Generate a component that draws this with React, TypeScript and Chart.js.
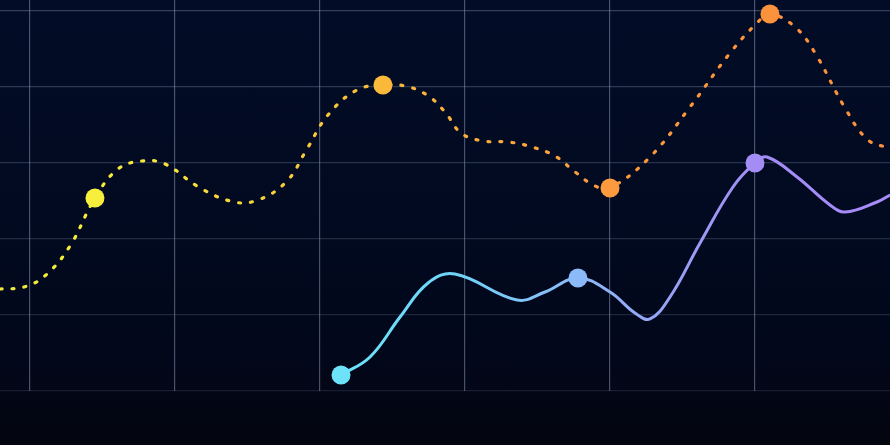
import React, { useEffect, useRef } from "react";
import { Chart, registerables } from "chart.js";

Chart.register(...registerables);

// x: one unit = 1/10 of a grid column, y: 0..100 scale (grid every 20)
const xGrid = [0, 10, 20, 30, 40, 50];
const yGrid = [0, 20, 40, 60, 80, 100];

const warmX = [-2.07, -0.41, 1.1, 2.76, 4.48, 6.07, 7.72, 9.31, 11.52, 13.79, 15.52, 17.66, 19.1, 20.55, 22.55, 24.34, 25.86, 27.38, 28.62, 29.72, 31.24, 32.97, 34.62, 36.21, 37.59, 38.97, 40.0, 42.76, 45.52, 48.28, 50.14, 51.03, 52.76, 54.14, 56.21, 57.79, 59.31];
const warmY = [26.84, 27.37, 30.53, 38.16, 50.79, 58.42, 60.53, 59.74, 53.95, 50.0, 50.0, 55.0, 63.68, 72.63, 79.21, 80.53, 80.26, 77.89, 73.42, 67.89, 65.79, 65.53, 64.21, 61.84, 57.63, 53.95, 53.42, 61.58, 74.74, 88.95, 96.84, 99.21, 95.79, 88.95, 74.47, 66.05, 63.9];
const warmHighlights = [4, 15, 26, 31];

const coolX = [21.45, 23.45, 25.52, 27.45, 29.31, 33.59, 35.52, 37.79, 40.0, 41.72, 42.76, 44.14, 46.21, 48.48, 50.0, 50.83, 52.9, 55.17, 56.21, 58.41, 59.31];
const coolY = [4.21, 8.95, 19.47, 28.42, 30.79, 23.95, 26.05, 29.74, 26.05, 20.53, 18.95, 24.74, 38.95, 53.68, 60.0, 61.58, 56.32, 48.95, 47.11, 49.74, 51.58];
const coolHighlights = [0, 7, 14];

const X_MIN = -2.069;
const X_MAX = 59.31;
const Y_MIN = 0;
const Y_MAX = 102.89;

function makeGradient(chart: any, stops: [number, string][]) {
  const area = chart.chartArea;
  if (!area) return stops[0][1];
  const g = chart.ctx.createLinearGradient(area.left, 0, area.right, 0);
  stops.forEach(([o, c]) => g.addColorStop(o, c));
  return g;
}

const warmStops: [number, string][] = [
  [0, "#f0e83a"],
  [0.107, "#f8ee3c"],
  [0.275, "#f7d43c"],
  [0.43, "#fbb93a"],
  [0.685, "#fb9a3e"],
  [0.865, "#fb923c"],
  [1, "#fb8f3e"],
];
const coolStops: [number, string][] = [
  [0, "#67e8f9"],
  [0.383, "#6ce3fa"],
  [0.506, "#6fd4f6"],
  [0.649, "#8cbaf8"],
  [0.848, "#a38cf4"],
  [1, "#a78bfa"],
];

export default function App() {
  const ref = useRef<HTMLCanvasElement | null>(null);

  useEffect(() => {
    document.body.style.margin = "0";
    if (!ref.current) return;
    const warmData = warmX.map((x, i) => ({ x, y: warmY[i] }));
    const coolData = coolX.map((x, i) => ({ x, y: coolY[i] }));
    const warmRadius = warmX.map((_, i) => (warmHighlights.includes(i) ? 9.5 : 0));
    const coolRadius = coolX.map((_, i) => (coolHighlights.includes(i) ? 9.5 : 0));

    const chart = new Chart(ref.current, {
      type: "line",
      data: {
        datasets: [
          {
            data: coolData,
            borderColor: (c: any) => makeGradient(c.chart, coolStops),
            pointBackgroundColor: (c: any) => makeGradient(c.chart, coolStops),
            pointBorderWidth: 0,
            pointRadius: coolRadius,
            borderWidth: 3,
            tension: 0.4,
            fill: false,
          },
          {
            data: warmData,
            borderColor: (c: any) => makeGradient(c.chart, warmStops),
            pointBackgroundColor: (c: any) => makeGradient(c.chart, warmStops),
            pointBorderWidth: 0,
            pointRadius: warmRadius,
            borderWidth: 3.2,
            borderDash: [2, 10],
            borderCapStyle: "round",
            tension: 0.4,
            fill: false,
          },
        ],
      },
      options: {
        animation: false,
        responsive: true,
        maintainAspectRatio: false,
        layout: { autoPadding: false, padding: { left: 0, right: 0, top: 0, bottom: 54 } },
        plugins: { legend: { display: false }, tooltip: { enabled: false } },
        scales: {
          x: {
            type: "linear",
            min: X_MIN,
            max: X_MAX,
            afterBuildTicks: (s: any) => {
              s.ticks = xGrid.map((v) => ({ value: v }));
            },
            ticks: { display: false },
            border: { display: false },
            grid: { color: "rgba(140,155,185,0.5)", lineWidth: 1.2, drawTicks: false },
          },
          y: {
            type: "linear",
            min: Y_MIN,
            max: Y_MAX,
            afterBuildTicks: (s: any) => {
              s.ticks = yGrid.map((v) => ({ value: v }));
            },
            ticks: { display: false },
            border: { display: false },
            grid: {
              color: (c: any) => {
                const a = 0.16 + (c.tick ? c.tick.value / 100 : 0) * 0.2;
                return `rgba(140,155,190,${a})`;
              },
              lineWidth: 1.2,
              drawTicks: false,
            },
          },
        },
      },
    });
    return () => chart.destroy();
  }, []);

  return (
    <div
      style={{
        width: 890,
        height: 445,
        position: "relative",
        background: "linear-gradient(180deg, #020c26 0%, #010a20 50%, #02071a 80%, #03050f 100%)",
      }}
    >
      <canvas ref={ref} />
    </div>
  );
}
